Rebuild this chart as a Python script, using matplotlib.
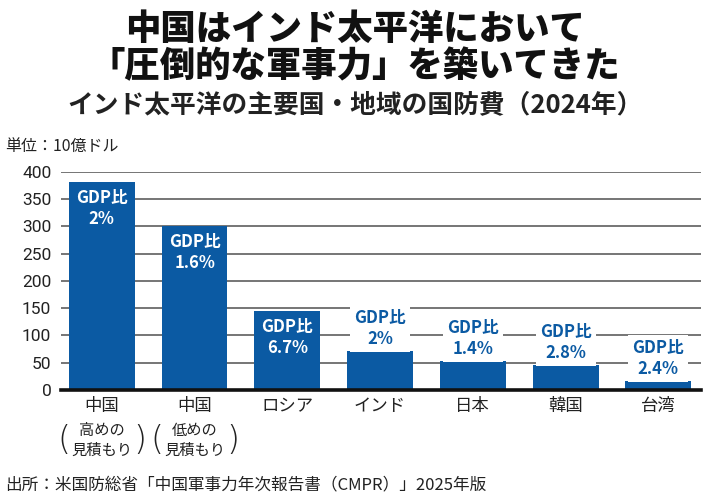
import matplotlib
matplotlib.use("Agg")
import matplotlib.pyplot as plt

plt.rcParams['font.family'] = ['Noto Sans CJK JP', 'DejaVu Sans']

categories = ['中国', '中国', 'ロシア', 'インド', '日本', '韓国', '台湾']
sub_lines = [['高めの', '見積もり'], ['低めの', '見積もり'], [], [], [], [], []]
values = [381, 300, 145, 72, 53, 46, 17]
gdp_labels = ['2%', '1.6%', '6.7%', '2%', '1.4%', '2.8%', '2.4%']
inside = [True, True, True, False, False, False, False]
yticks = [0, 50, 100, 150, 200, 250, 300, 350, 400]

title1 = '中国はインド太平洋において'
title2 = '「圧倒的な軍事力」を築いてきた'
subtitle = 'インド太平洋の主要国・地域の国防費（2024年）'
unit = '単位：10億ドル'
source = '出所：米国防総省「中国軍事力年次報告書（CMPR）」2025年版'

BLUE = '#0b5aa3'
W, H = 710, 500
fig = plt.figure(figsize=(W / 100, H / 100), dpi=100)
fig.patch.set_facecolor('white')

ax_left, ax_right = 61 / W, 701 / W
ax_bottom = 1 - 390 / H
ax_top = 1 - 171.7 / H
ax = fig.add_axes([ax_left, ax_bottom, ax_right - ax_left, ax_top - ax_bottom])

x = list(range(len(categories)))
ax.bar(x, values, width=0.71, color=BLUE, zorder=3)
ax.set_xlim(-0.44, 6.46)
ax.set_ylim(0, 400)
ax.set_yticks(yticks)
ax.set_yticklabels([str(v) for v in yticks], fontsize=12.5, color='#222222',
                   family=['Roboto', 'DejaVu Sans'])
ax.tick_params(axis='y', length=0, pad=7)
ax.set_xticks([])
for s in ['top', 'right', 'left']:
    ax.spines[s].set_visible(False)
ax.spines['bottom'].set_linewidth(2.6)
ax.spines['bottom'].set_color('#111111')
ax.spines['bottom'].set_zorder(5)
for v in yticks[1:]:
    ax.axhline(v, color='#5e5e5e', lw=1.2, zorder=1)

# GDP labels
for xi, v, lab, ins in zip(x, values, gdp_labels, inside):
    txt = 'GDP比\n' + lab
    if ins:
        ax.annotate(txt, xy=(xi, v), xytext=(0, -5), textcoords='offset points',
                    ha='center', va='top', fontsize=12, fontweight='bold',
                    color='white', linespacing=1.2, zorder=6)
    else:
        ax.annotate(txt, xy=(xi, v), xytext=(0, 2), textcoords='offset points',
                    ha='center', va='bottom', fontsize=12, fontweight='bold',
                    color=BLUE, linespacing=1.2, zorder=6,
                    bbox=dict(boxstyle='square,pad=0.25', fc='white', ec='none'))

# category labels
for xi, cat, subs in zip(x, categories, sub_lines):
    ax.annotate(cat, xy=(xi, 0), xycoords=('data', 'axes fraction'),
                xytext=(0, -16), textcoords='offset pixels',
                ha='center', va='center', fontsize=12.5, color='#222222')
    for k, s in enumerate(subs):
        ax.annotate(s, xy=(xi, 0), xycoords=('data', 'axes fraction'),
                    xytext=(0, -40 - 20 * k), textcoords='offset pixels',
                    ha='center', va='center', fontsize=11, color='#222222')
    if subs:
        for dx, ch in [(-38, '('), (38, ')')]:
            ax.annotate(ch, xy=(xi, 0), xycoords=('data', 'axes fraction'),
                        xytext=(dx, -50), textcoords='offset pixels',
                        ha='center', va='center', fontsize=24,
                        fontweight='ultralight', color='#222222',
                        family=['DejaVu Sans'])

# titles
fig.text(0.5, 1 - 29 / H, title1, ha='center', va='center', fontsize=25.5,
         fontweight='heavy', color='#111111')
fig.text(0.5, 1 - 66 / H, title2, ha='center', va='center', fontsize=25.5,
         fontweight='heavy', color='#111111')
fig.text(0.5, 1 - 105 / H, subtitle, ha='center', va='center', fontsize=18.5,
         fontweight='bold', color='#222222')
fig.text(5 / W, 1 - 146 / H, unit, ha='left', va='center', fontsize=11.5,
         color='#222222')
fig.text(5 / W, 1 - 485 / H, source, ha='left', va='center', fontsize=12,
         color='#222222')

fig.savefig('out.png', dpi=100, facecolor='white')
